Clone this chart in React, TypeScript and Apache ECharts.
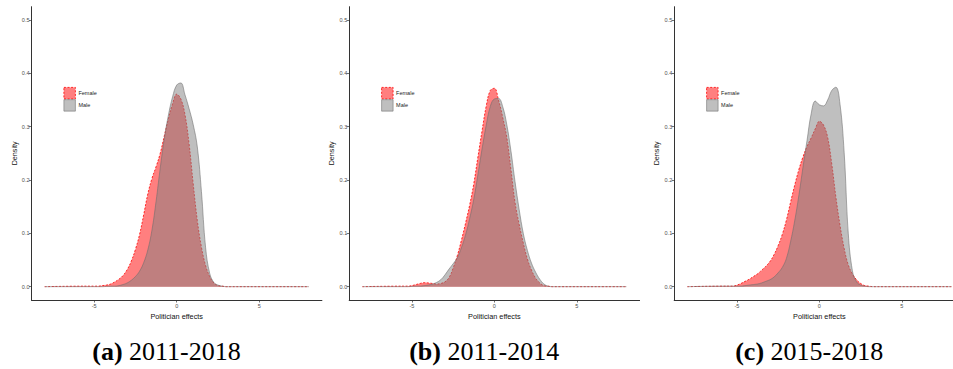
import React, { useEffect, useRef } from "react";
import * as echarts from "echarts";

// Shared x grid of the density estimates (Politician effects)
const xs = [-8, -5.5, -5.25, -5, -4.75, -4.5, -4.25, -4, -3.75, -3.5, -3.25, -3, -2.75, -2.5, -2.25, -2, -1.75, -1.5, -1.25, -1, -0.75, -0.5, -0.25, 0, 0.25, 0.5, 0.75, 1, 1.25, 1.5, 1.75, 2, 2.25, 2.5, 2.75, 3, 3.25, 3.5, 8];

// (a) 2011-2018
const femaleA = [0, 0.001, 0.001, 0.001, 0.001, 0.002, 0.003, 0.005, 0.009, 0.014, 0.021, 0.032, 0.048, 0.07, 0.098, 0.135, 0.174, 0.203, 0.225, 0.25, 0.283, 0.315, 0.343, 0.361, 0.352, 0.323, 0.268, 0.193, 0.124, 0.074, 0.04, 0.019, 0.007, 0.002, 0.001, 0, 0, 0, 0];
const maleA = [0, 0, 0, 0, 0, 0, 0.0005, 0.001, 0.001, 0.002, 0.004, 0.007, 0.012, 0.019, 0.029, 0.045, 0.069, 0.106, 0.16, 0.222, 0.278, 0.322, 0.356, 0.378, 0.382, 0.36, 0.334, 0.304, 0.262, 0.178, 0.074, 0.025, 0.008, 0.003, 0.001, 0, 0, 0, 0];

// (b) 2011-2014
const femaleB = [0, 0.001, 0.001, 0.002, 0.004, 0.006, 0.0075, 0.007, 0.006, 0.005, 0.006, 0.009, 0.017, 0.035, 0.058, 0.087, 0.119, 0.153, 0.193, 0.243, 0.292, 0.338, 0.368, 0.372, 0.35, 0.318, 0.28, 0.22, 0.158, 0.117, 0.082, 0.052, 0.031, 0.016, 0.007, 0.002, 0.001, 0, 0];
const maleB = [0, 0, 0, 0.0005, 0.001, 0.001, 0.002, 0.003, 0.005, 0.008, 0.013, 0.022, 0.033, 0.043, 0.054, 0.073, 0.097, 0.128, 0.164, 0.21, 0.258, 0.302, 0.338, 0.352, 0.353, 0.338, 0.304, 0.255, 0.197, 0.145, 0.1, 0.068, 0.044, 0.027, 0.014, 0.005, 0.001, 0, 0];

// (c) 2015-2018
const femaleC = [0, 0.001, 0.001, 0.003, 0.006, 0.01, 0.014, 0.019, 0.024, 0.031, 0.038, 0.047, 0.06, 0.077, 0.098, 0.125, 0.158, 0.19, 0.219, 0.243, 0.263, 0.279, 0.296, 0.31, 0.303, 0.28, 0.23, 0.168, 0.115, 0.072, 0.041, 0.024, 0.013, 0.006, 0.002, 0.001, 0, 0, 0];
const maleC = [0, 0.001, 0.001, 0.001, 0.001, 0.002, 0.003, 0.004, 0.005, 0.007, 0.01, 0.013, 0.018, 0.026, 0.036, 0.053, 0.084, 0.123, 0.17, 0.223, 0.274, 0.324, 0.348, 0.341, 0.339, 0.35, 0.368, 0.374, 0.342, 0.252, 0.1, 0.03, 0.009, 0.003, 0.001, 0, 0, 0, 0];

const seriesNames = ["Female", "Male"];
const panelTags = ["(a)", "(b)", "(c)"];
const panelPeriods = ["2011-2018", "2011-2014", "2015-2018"];
const panelData = [
  [femaleA, maleA],
  [femaleB, maleB],
  [femaleC, maleC],
];
const xTicks = [-5, 0, 5];
const yTicks = [0, 0.1, 0.2, 0.3, 0.4, 0.5];
const xTitle = "Politician effects";
const yTitle = "Density";

// layout
const panelLefts = [31.5, 349.2, 674.2];
const gridTop = 6.7;
const gridW = 290.4;
const gridH = 293.3;
const SANS = "Liberation Sans";
const SERIF = "Liberation Serif";

const FEMALE_FILL = "rgba(255,0,0,0.5)";
const MALE_FILL = "rgba(127,127,127,0.5)";

export default function App() {
  const ref = useRef<HTMLDivElement>(null);
  useEffect(() => {
    if (!ref.current) return;
    const chart = echarts.init(ref.current, undefined, { renderer: "svg" });

    const grids = panelLefts.map((l) => ({
      left: l,
      top: gridTop,
      width: gridW,
      height: gridH,
      containLabel: false,
      outerBoundsMode: "none",
    }));

    const xAxes = panelLefts.map((_, i) => ({
      type: "value",
      gridIndex: i,
      min: -8.8,
      max: 8.8,
      name: xTitle,
      nameLocation: "middle",
      nameGap: 10,
      nameTextStyle: { fontSize: 7.3, color: "#111", fontFamily: SANS },
      axisLine: { onZero: false, lineStyle: { color: "#333", width: 1 } },
      axisTick: { customValues: xTicks, length: 2.5, lineStyle: { color: "#333", width: 0.7 } },
      axisLabel: {
        customValues: xTicks,
        fontSize: 5.5,
        color: "#4d4d4d",
        fontFamily: SANS,
        margin: 2.5,
        formatter: (v: number) => String(v),
      },
      splitLine: { show: false },
    }));

    const yAxes = panelLefts.map((_, i) => ({
      type: "value",
      gridIndex: i,
      min: -0.025,
      max: 0.525,
      name: yTitle,
      nameLocation: "middle",
      nameGap: 14,
      nameTextStyle: { fontSize: 7.2, color: "#111", fontFamily: SANS },
      axisLine: { onZero: false, lineStyle: { color: "#333", width: 1 } },
      axisTick: { customValues: yTicks, length: 2.5, lineStyle: { color: "#333", width: 0.7 } },
      axisLabel: {
        customValues: yTicks,
        fontSize: 5.5,
        color: "#4d4d4d",
        fontFamily: SANS,
        margin: 2,
        formatter: (v: number) => v.toFixed(1),
      },
      splitLine: { show: false },
    }));

    const series: any[] = [];
    panelData.forEach((pair, i) => {
      const [fem, mal] = pair;
      series.push({
        type: "line",
        name: seriesNames[0],
        xAxisIndex: i,
        yAxisIndex: i,
        data: xs.map((x, k) => [x, fem[k]]),
        smooth: 0.4,
        showSymbol: false,
        symbol: "none",
        itemStyle: { color: "red" },
        lineStyle: { color: "red", width: 0.8, type: [2, 1.6] },
        areaStyle: { color: FEMALE_FILL, opacity: 1 },
        z: 2,
      });
      series.push({
        type: "line",
        name: seriesNames[1],
        xAxisIndex: i,
        yAxisIndex: i,
        data: xs.map((x, k) => [x, mal[k]]),
        smooth: 0.4,
        showSymbol: false,
        symbol: "none",
        itemStyle: { color: "#7f7f7f" },
        lineStyle: { color: "rgba(110,110,110,0.8)", width: 0.7 },
        areaStyle: { color: MALE_FILL, opacity: 1 },
        z: 3,
      });
    });

    const legends = panelLefts.map((l) => ({
      orient: "vertical",
      left: l + 32,
      top: 87,
      padding: 0,
      itemGap: 0,
      itemWidth: 11.5,
      itemHeight: 11.5,
      icon: "rect",
      selectedMode: false,
      textStyle: { fontSize: 5.5, color: "#222", fontFamily: SANS, padding: [0, 0, 0, -2] },
      data: [
        {
          name: seriesNames[0],
          itemStyle: { color: FEMALE_FILL, borderColor: "red", borderWidth: 0.8, borderType: [2, 1.6] },
        },
        {
          name: seriesNames[1],
          itemStyle: { color: MALE_FILL, borderColor: "rgba(110,110,110,0.8)", borderWidth: 0.7 },
        },
      ],
    }));

    const captions = panelLefts.map((l, i) => ({
      type: "text",
      x: l + 135,
      y: 351,
      style: {
        text: `{b|${panelTags[i]}} {n|${panelPeriods[i]}}`,
        fill: "#000",
        fontFamily: SERIF,
        fontSize: 26,
        align: "center",
        verticalAlign: "middle",
        rich: {
          b: { fontWeight: "bold", fontSize: 26, fontFamily: SERIF, fill: "#000" },
          n: { fontWeight: "normal", fontSize: 26, fontFamily: SERIF, fill: "#000" },
        },
      },
    }));

    chart.setOption({
      animation: false,
      backgroundColor: "#fff",
      grid: grids,
      xAxis: xAxes,
      yAxis: yAxes,
      legend: legends,
      series,
      graphic: captions,
    } as any);

    return () => chart.dispose();
  }, []);

  return (
    <div
      ref={ref}
      style={{ position: "absolute", left: 0, top: 0, width: 953, height: 369, background: "#fff" }}
    />
  );
}
